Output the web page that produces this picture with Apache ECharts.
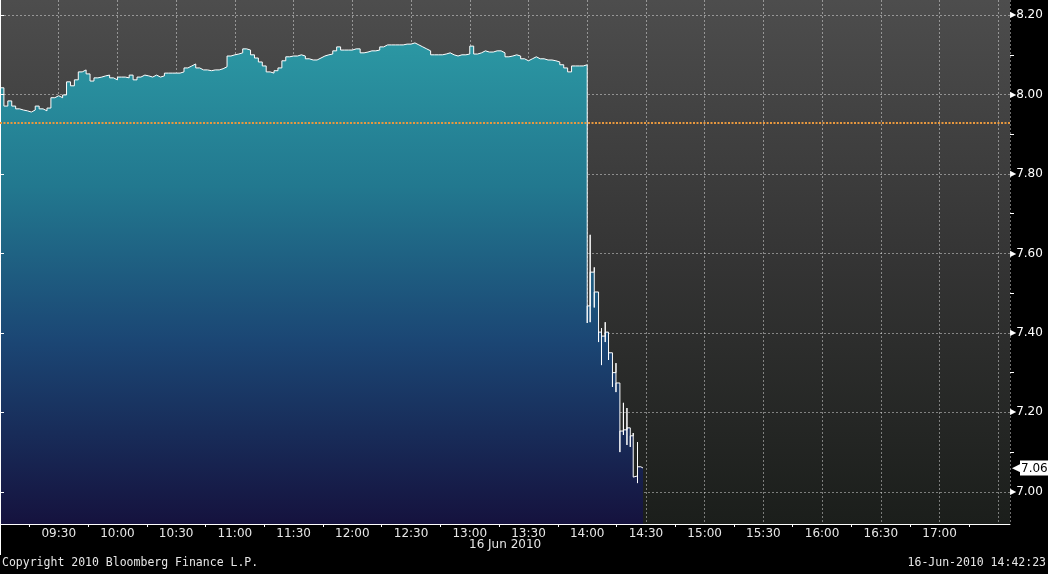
<!DOCTYPE html>
<html><head><meta charset="utf-8">
<script src="https://cdn.jsdelivr.net/npm/echarts@6/dist/echarts.min.js"></script>
<style>html,body{margin:0;padding:0;background:#000}#c{width:1048px;height:574px}</style>
</head><body><div id="c"></div>
<script>
// minutes after 09:00
const axisStartHour = 9;
const axisMin = 0, axisMax = 516;
const preStep = 2; // 2-minute prices 09:00 .. 14:00
const preValues = [
 8.017, 7.971, 7.984, 7.971, 7.964, 7.961, 7.959, 7.956, 7.961, 7.971,
 7.964, 7.959, 7.966, 7.992, 7.997, 7.992, 7.999, 8.032, 8.022, 8.037,
 8.057, 8.062, 8.052, 8.034, 8.042, 8.044, 8.047, 8.049, 8.042, 8.037,
 8.044, 8.044, 8.042, 8.049, 8.037, 8.044, 8.049, 8.047, 8.044, 8.049,
 8.044, 8.047, 8.054, 8.054, 8.054, 8.054, 8.057, 8.067, 8.072, 8.077,
 8.067, 8.062, 8.062, 8.060, 8.062, 8.062, 8.065, 8.070, 8.097, 8.100,
 8.102, 8.105, 8.115, 8.112, 8.100, 8.092, 8.082, 8.072, 8.057, 8.054,
 8.060, 8.067, 8.085, 8.095, 8.097, 8.097, 8.100, 8.097, 8.090, 8.087,
 8.087, 8.092, 8.097, 8.100, 8.102, 8.110, 8.120, 8.112, 8.112, 8.112,
 8.115, 8.115, 8.105, 8.107, 8.110, 8.110, 8.112, 8.120, 8.125, 8.125,
 8.125, 8.125, 8.125, 8.127, 8.127, 8.130, 8.125, 8.120, 8.115, 8.110,
 8.100, 8.100, 8.100, 8.102, 8.105, 8.100, 8.097, 8.100, 8.100, 8.102,
 8.122, 8.102, 8.105, 8.110, 8.107, 8.107, 8.110, 8.110, 8.105, 8.095,
 8.097, 8.100, 8.097, 8.090, 8.085, 8.090, 8.095, 8.090, 8.090, 8.087,
 8.087, 8.085, 8.082, 8.075, 8.067, 8.057, 8.072, 8.072, 8.072, 8.075,
 8.067
];
// after 14:00: bars (minutes after 09:00)
const postTimes = [300, 301.5, 303.6, 305.8, 307.3, 309.2, 310.9, 312.9, 314.7, 316.7, 318.5, 320.3, 322, 323.5, 325.7, 327.4];
const postHigh  = [8.067, 7.647, 7.565, 7.503, 7.412, 7.427, 7.402, 7.352, 7.324, 7.274, 7.224, 7.211, 7.163, 7.148, 7.125, 7.065];
const postLow   = [7.425, 7.427, 7.464, 7.377, 7.319, 7.377, 7.332, 7.264, 7.251, 7.100, 7.143, 7.118, 7.113, 7.037, 7.022, 7.058];
const postClose = [7.468, 7.553, 7.503, 7.402, 7.392, 7.402, 7.350, 7.300, 7.274, 7.153, 7.156, 7.161, 7.141, 7.040, 7.063, 7.060];
const lastTime = 328.5;
const prevClose = 7.927;
const lastPrice = 7.06;
const yTicks = [7.0, 7.2, 7.4, 7.6, 7.8, 8.0, 8.2];
const yMinorTicks = [7.1, 7.3, 7.5, 7.7, 7.9, 8.1];
const xLabels = ['09:30','10:00','10:30','11:00','11:30','12:00','12:30','13:00','13:30','14:00','14:30','15:00','15:30','16:00','16:30','17:00'];
const yMin = 6.919, yMax = 8.238;

const data = preValues.map((v, i) => [i * preStep, v]);
postTimes.forEach((t, i) => { data.push([t, postHigh[i]], [t, postLow[i]], [t, postClose[i]]); });
data.push([lastTime, postClose[postClose.length - 1]]);

function fmtTime(v) {
  const h = axisStartHour + Math.floor(v / 60), m = Math.round(v % 60);
  const s = (h < 10 ? '0' : '') + h + ':' + (m < 10 ? '0' : '') + m;
  return xLabels.indexOf(s) >= 0 ? s : '';
}

const chart = echarts.init(document.getElementById('c'), null, {renderer: 'canvas'});
const grid = 'rgba(255,255,255,0.42)';
chart.setOption({
  backgroundColor: '#000',
  animation: false,
  grid: {left: 0, right: 38, top: 0, bottom: 50, show: true, borderWidth: 0,
    containLabel: false, outerBoundsMode: 'none',
    backgroundColor: new echarts.graphic.LinearGradient(0, 0, 0, 1, [
      {offset: 0, color: '#4d4d4d'}, {offset: 0.5, color: '#343434'}, {offset: 1, color: '#1b1e1b'}])},
  xAxis: {
    type: 'value', min: axisMin, max: axisMax, interval: 30, z: 3,
    axisLine: {show: true, lineStyle: {color: '#fff', width: 1}},
    axisTick: {show: false},
    minorTick: {show: true, splitNumber: 2, length: 3, lineStyle: {color: '#fff'}},
    axisLabel: {color: '#e6e6e6', fontFamily: 'DejaVu Sans', fontSize: 12, margin: 4, formatter: fmtTime},
    splitLine: {show: true, lineStyle: {color: grid, type: [2, 2], width: 1}}
  },
  yAxis: [{
    type: 'value', position: 'right', min: yMin, max: yMax, splitNumber: 6, z: 3,
    axisLine: {show: true, lineStyle: {color: '#fff'}},
    axisTick: {show: true, customValues: yTicks, length: 4, lineStyle: {color: '#fff'}},
    axisLabel: {customValues: yTicks, margin: 0, color: '#fff', fontFamily: 'DejaVu Sans', fontSize: 12,
      formatter: v => '{t|▶}' + v.toFixed(2), rich: {t: {fontSize: 8, color: '#fff'}}},
    splitLine: {show: true, lineStyle: {color: grid, type: [2, 2], width: 1}}
  }, {
    type: 'value', position: 'right', min: yMin, max: yMax, z: 3,
    axisLine: {show: false},
    axisTick: {show: true, customValues: yMinorTicks, length: 4, lineStyle: {color: '#fff'}},
    axisLabel: {show: false},
    splitLine: {show: false}
  }],
  series: [{
    type: 'line', data: data, step: 'end', showSymbol: false, symbol: 'none',
    lineStyle: {color: '#fff', width: 1},
    areaStyle: {opacity: 1, color: new echarts.graphic.LinearGradient(0, 0, 0, 1, [
      {offset: 0, color: '#2b97a3'}, {offset: 0.3, color: '#22788f'},
      {offset: 0.62, color: '#1b4674'}, {offset: 1, color: '#15123e'}])},
    markLine: {
      silent: true, symbol: 'none', animation: false,
      data: [
        {yAxis: prevClose, lineStyle: {color: '#e8983e', type: [2, 1.5], width: 2}, label: {show: false}},
        {yAxis: lastPrice, lineStyle: {color: 'rgba(0,0,0,0)', width: 0}, label: {show: true, position: 'end', distance: 2,
          formatter: '{a|◀}{b|' + lastPrice.toFixed(2) + '}',
          rich: {a: {color: '#fff', fontSize: 11}, b: {backgroundColor: '#fff', color: '#000', fontSize: 12, fontFamily: 'DejaVu Sans', padding: [2, 6, 1, 1]}}}}
      ]
    }
  }],
  graphic: [
    {type: 'text', left: 469, top: 539, style: {text: '16 Jun 2010', fill: '#e6e6e6', font: '12px "DejaVu Sans"'}},
    {type: 'text', left: 2, top: 557, style: {text: 'Copyright 2010 Bloomberg Finance L.P.', fill: '#e6e6e6', font: '11.5px "DejaVu Sans Mono"'}},
    {type: 'text', right: 2, top: 557, style: {text: '16-Jun-2010 14:42:23', fill: '#e6e6e6', font: '11.5px "DejaVu Sans Mono"'}},
    {type: 'line', shape: {x1: 0.5, y1: 524, x2: 0.5, y2: 555}, style: {stroke: '#fff', lineWidth: 1}}
  ]
});
</script></body></html>
